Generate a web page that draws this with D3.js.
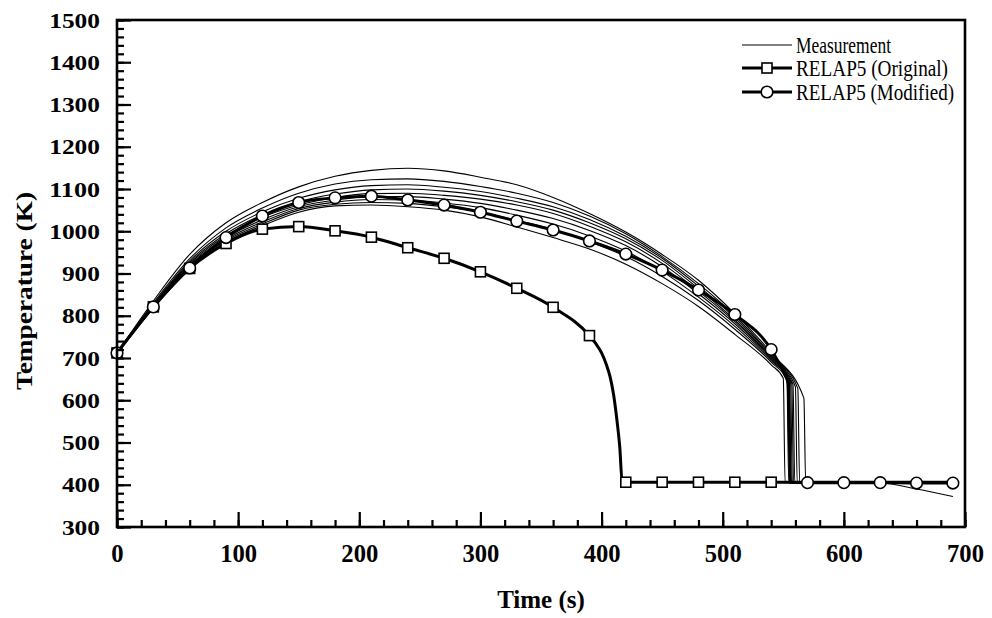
<!DOCTYPE html>
<html><head><meta charset="utf-8">
<script src="https://cdn.jsdelivr.net/npm/d3@7"></script>
<style>body{margin:0;background:#fff}svg{display:block}</style>
</head><body>
<svg id="chart" width="992" height="618"></svg>
<script>
// ---------- DATA ----------
const xTickLabels = [0,100,200,300,400,500,600,700];
const yTickLabels = [300,400,500,600,700,800,900,1000,1100,1200,1300,1400,1500];
const seriesNames = ["Measurement","RELAP5 (Original)","RELAP5 (Modified)"];

// measured thermocouple traces, common time base
const measTimes = [0,30,60,90,120,150,180,210,240,270,300,330,360,390,420,450,480,510,540];
const meas1 = [712,835,945,1020,1068,1105,1130,1144,1149,1143,1128,1110,1080,1042,998,945,884,805,712];
const meas2 = [712,830,935,1008,1055,1090,1112,1122,1124,1118,1106,1090,1068,1036,994,940,876,800,708];
const meas3 = [712,827,930,1000,1046,1078,1098,1108,1110,1104,1094,1078,1058,1028,988,936,870,795,705];
const meas4 = [712,825,926,994,1039,1070,1088,1098,1100,1095,1085,1070,1050,1020,982,931,864,790,702];
const meas5 = [712,824,923,990,1033,1062,1080,1089,1090,1085,1076,1062,1042,1012,975,924,858,786,700];
const meas6 = [712,823,920,985,1027,1058,1074,1082,1082,1076,1066,1050,1030,1002,966,916,852,781,697];
const meas7 = [712,822,918,981,1022,1054,1069,1075,1074,1067,1056,1038,1017,989,953,905,844,775,694];
const meas8 = [712,821,916,978,1017,1050,1064,1068,1066,1058,1045,1026,1004,975,940,893,836,768,690];
const meas9 = [712,820,914,975,1013,1045,1060,1062,1058,1050,1034,1010,985,958,922,876,822,756,684];
// quench (rewet) of each trace: last temperature before drop and drop time
const measQuenchTime = [567,562,560,558,557,556,555,553,550];
const measQuenchTemp = [605,628,632,638,640,642,645,648,652];
const measFinalTimes = [600,690];
const measFinalTemps = [405,405];
const measTailTimes = [600,630,660,690];
const measTailTemps = [405,404,390,372];

const originalTimes = [0,30,60,90,120,150,180,210,240,270,300,330,360,390,395,400,404,407,410,413,415,417,420,450,480,510,540,570,600,630,660,690];
const originalTemps = [712,821,912,971,1005,1011,1001,986,961,936,904,865,820,753,735,712,684,656,612,545,490,407,406,406,406,406,406,406,406,406,406,406];

const modifiedTimes = [0,30,60,90,120,150,180,210,240,270,300,330,360,390,420,450,480,510,540,546,551,554,556,570,600,630,660,690];
const modifiedTemps = [712,821,913,985,1036,1068,1079,1083,1074,1062,1045,1024,1003,977,946,908,861,803,720,690,662,640,406,405,405,405,404,404];

// ---------- LAYOUT ----------
const svg = d3.select("#chart");
const L = 117, R = 965, T = 20, B = 527;
const x = d3.scaleLinear().domain([0,700]).range([L,R]);
const y = d3.scaleLinear().domain([300,1500]).range([B,T]);
const serif = "'Liberation Serif','Times New Roman',Times,serif";

const line = d3.line().x(d=>x(d[0])).y(d=>y(d[1])).curve(d3.curveMonotoneX);

// measurement traces
const measAll = [meas1,meas2,meas3,meas4,meas5,meas6,meas7,meas8,meas9];
measAll.forEach((vals,i)=>{
  const pts = measTimes.map((t,j)=>[t,vals[j]]);
  pts.push([measQuenchTime[i], measQuenchTemp[i]]);
  pts.push([measQuenchTime[i]+1.5, 405]);
  if (i===8) measTailTimes.forEach((t,j)=>pts.push([t,measTailTemps[j]]));
  else measFinalTimes.forEach((t,j)=>pts.push([t,measFinalTemps[j]]));
  svg.append("path").attr("d",line(pts)).attr("fill","none")
    .attr("stroke","#000").attr("stroke-width",1.1);
});

const origPts = originalTimes.map((t,i)=>[t,originalTemps[i]]);
const modPts = modifiedTimes.map((t,i)=>[t,modifiedTemps[i]]);
svg.append("path").attr("d",line(origPts)).attr("fill","none").attr("stroke","#000").attr("stroke-width",3);
svg.append("path").attr("d",line(modPts)).attr("fill","none").attr("stroke","#000").attr("stroke-width",3);

// markers
const sq = 10, cr = 5.8;
svg.append("g").selectAll("rect").data(origPts.filter(d=>d[0]%30===0 && d[0]<=540)).join("rect")
  .attr("x",d=>x(d[0])-sq/2).attr("y",d=>y(d[1])-sq/2).attr("width",sq).attr("height",sq)
  .attr("fill","#fff").attr("stroke","#000").attr("stroke-width",1.6);
svg.append("g").selectAll("circle").data(modPts.filter(d=>d[0]%30===0)).join("circle")
  .attr("cx",d=>x(d[0])).attr("cy",d=>y(d[1])).attr("r",cr)
  .attr("fill","#fff").attr("stroke","#000").attr("stroke-width",1.6);

// ---------- AXES ----------
const fmt = d3.format("d");
const yMinor = svg.append("g").attr("transform",`translate(${L},0)`)
  .call(d3.axisLeft(y).tickValues(d3.range(300,1501,20)).tickSizeInner(-7).tickSizeOuter(0).tickFormat(""));
const yMajor = svg.append("g").attr("transform",`translate(${L},0)`)
  .call(d3.axisLeft(y).tickValues(yTickLabels).tickSizeInner(-14).tickSizeOuter(0).tickPadding(17).tickFormat(fmt));
const xMinor = svg.append("g").attr("transform",`translate(0,${B})`)
  .call(d3.axisBottom(x).tickValues(d3.range(0,701,20)).tickSizeInner(-7).tickSizeOuter(0).tickFormat(""));
const xMajor = svg.append("g").attr("transform",`translate(0,${B})`)
  .call(d3.axisBottom(x).tickValues(xTickLabels).tickSizeInner(-15).tickSizeOuter(0).tickPadding(17).tickFormat(fmt));
[yMinor,yMajor,xMinor,xMajor].forEach(g=>{
  g.select(".domain").remove();
  g.selectAll(".tick line").attr("stroke","#000").attr("stroke-width",2.2);
});
yMajor.selectAll("text").attr("font-family",serif).attr("font-weight","bold").attr("font-size",22)
  .attr("fill","#000").attr("textLength",d=>fmt(d).length*12.7).attr("lengthAdjust","spacingAndGlyphs");
xMajor.selectAll("text").attr("font-family",serif).attr("font-weight","bold").attr("font-size",26).attr("fill","#000")
  .attr("textLength",d=>fmt(d).length*12.3).attr("lengthAdjust","spacingAndGlyphs");

// frame
svg.append("rect").attr("x",L).attr("y",T).attr("width",R-L).attr("height",B-T)
  .attr("fill","none").attr("stroke","#000").attr("stroke-width",2.6);

// titles
svg.append("text").attr("transform",`translate(24,${291}) rotate(-90)`)
  .attr("text-anchor","middle").attr("dominant-baseline","central")
  .attr("font-family",serif).attr("font-weight","bold").attr("font-size",23)
  .attr("textLength",198).attr("lengthAdjust","spacingAndGlyphs").text("Temperature (K)");
svg.append("text").attr("x",(L+R)/2).attr("y",608).attr("text-anchor","middle")
  .attr("font-family",serif).attr("font-weight","bold").attr("font-size",25).text("Time (s)");

// ---------- LEGEND ----------
const lg = svg.append("g");
const rowsY = [45,68,92];
const legendTextWidth = [95,152,158];
seriesNames.forEach((name,i)=>{
  const yy = rowsY[i];
  lg.append("line").attr("x1",742).attr("x2",792).attr("y1",yy).attr("y2",yy)
    .attr("stroke","#000").attr("stroke-width",i===0?1.1:3);
  if (i===1) lg.append("rect").attr("x",767-sq/2).attr("y",yy-sq/2).attr("width",sq).attr("height",sq)
    .attr("fill","#fff").attr("stroke","#000").attr("stroke-width",1.6);
  if (i===2) lg.append("circle").attr("cx",767).attr("cy",yy).attr("r",cr)
    .attr("fill","#fff").attr("stroke","#000").attr("stroke-width",1.6);
  lg.append("text").attr("x",796).attr("y",yy).attr("dy","0.35em")
    .attr("font-family",serif).attr("font-size",23)
    .attr("textLength",legendTextWidth[i]).attr("lengthAdjust","spacingAndGlyphs").text(name);
});
</script>
</body></html>
